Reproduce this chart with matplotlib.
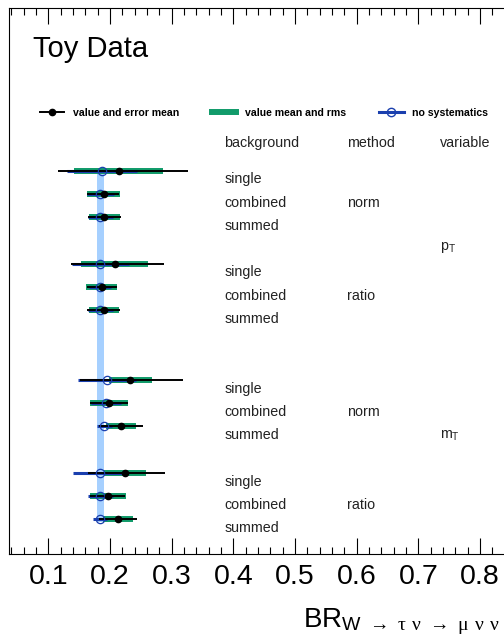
import numpy as np
import matplotlib
matplotlib.use('Agg')
import matplotlib.pyplot as plt
from matplotlib.lines import Line2D
from matplotlib.ticker import MultipleLocator

plt.rcParams['font.family'] = ['Liberation Sans', 'DejaVu Sans']
plt.rcParams['mathtext.fontset'] = 'custom'
plt.rcParams['mathtext.rm'] = 'Liberation Serif'
plt.rcParams['mathtext.sf'] = 'Liberation Sans'
plt.rcParams['mathtext.it'] = 'Liberation Serif:italic'

# row index of every measurement (top to bottom)
rows = [7, 8, 9, 11, 12, 13, 16, 17, 18, 20, 21, 22]
background = ['single', 'combined', 'summed'] * 4
methods = ['norm', 'ratio', 'norm', 'ratio']
variables = [r'p$_{\mathsf{T}}$', r'm$_{\mathsf{T}}$']

# value and error mean
val = [0.2138, 0.1894, 0.1908, 0.2073, 0.1865, 0.1897,
       0.2328, 0.1983, 0.2178, 0.2247, 0.1965, 0.2133]
err_lo = [0.0975, 0.0275, 0.0265, 0.0707, 0.0242, 0.0264,
          0.0813, 0.0305, 0.0352, 0.0597, 0.0284, 0.0320]
err_hi = [0.1124, 0.0250, 0.0265, 0.0807, 0.0242, 0.0264,
          0.0856, 0.0305, 0.0352, 0.0642, 0.0284, 0.0310]
# value mean and rms
rms = [0.0720, 0.0265, 0.0255, 0.0540, 0.0250, 0.0245,
       0.0350, 0.0307, 0.0236, 0.0340, 0.0295, 0.0241]
# no systematics
nosys = [0.1868, 0.1845, 0.1840, 0.1845, 0.1840, 0.1840,
         0.1949, 0.1930, 0.1910, 0.1845, 0.1845, 0.1840]
nosys_err = [0.0570, 0.0220, 0.0200, 0.0460, 0.0180, 0.0200,
             0.0470, 0.0240, 0.0124, 0.0449, 0.0200, 0.0109]

ref_value = 0.184
ref_err = 0.0054

green = '#119b6a'
blue = '#1a3fae'
band = '#a6d0ff'

val = np.array(val)
nosys = np.array(nosys)
nosys_err = np.array(nosys_err)

fig = plt.figure(figsize=(5.04, 6.38), dpi=100)
ax = fig.add_axes([9 / 504, 1 - 554 / 638, 502 / 504, 546 / 638])

ax.fill_betweenx([6.9, 22.1], ref_value - ref_err, ref_value + ref_err,
                 color=band, lw=0, zorder=1)
ax.hlines(rows, val - np.array(rms), val + np.array(rms), color=green, lw=4.3, zorder=2)
ax.hlines(rows, nosys - nosys_err, nosys + nosys_err, color=blue, lw=2.2, zorder=3)
ax.hlines(rows, val - np.array(err_lo), val + np.array(err_hi), color='black', lw=1.4, zorder=4)
ax.plot(nosys, rows, 'o', mfc='none', mec=blue, ms=6, mew=0.9, zorder=5)
ax.plot(val, rows, 'o', color='black', ms=4.5, zorder=6)

# table of labels on the right
col_bkg, col_meth, col_var = 0.385, 0.585, 0.735
txt = dict(fontsize=10.3, va='baseline', color='#222222')
ax.text(col_bkg, 6, 'background', **txt)
ax.text(col_meth, 6, 'method', **txt)
ax.text(col_var, 6, 'variable', **txt)
for r, b in zip(rows, background):
    ax.text(col_bkg, r + 0.55, b, **txt)
for r, m in zip(rows[1::3], methods):
    ax.text(col_meth, r + 0.55, m, **txt)
ax.text(col_var, 10.42, variables[0], **txt)
ax.text(col_var, 18.55, variables[1], **txt)

ax.set_xlim(0.0361, 0.8504)
ax.set_ylim(23.49, 0)
ax.set_yticks([])
ax.xaxis.set_major_locator(MultipleLocator(0.1))
ax.xaxis.set_minor_locator(MultipleLocator(0.02))
ax.tick_params(axis='x', which='both', direction='in', top=True, bottom=True,
               labelsize=20.5, pad=7.5, width=0.8)
ax.tick_params(axis='x', which='major', length=11.5)
ax.tick_params(axis='x', which='minor', length=5)
ax.set_xticks(np.arange(0.1, 0.85, 0.1))
ax.set_xticklabels(['%.1f' % t for t in np.arange(0.1, 0.85, 0.1)])
for s in ax.spines.values():
    s.set_linewidth(0.8)

handles = [
    Line2D([], [], color='black', lw=1.4, marker='o', ms=4.5),
    Line2D([], [], color=green, lw=4.3),
    Line2D([], [], color=blue, lw=2.2, marker='o', mfc='none', mec=blue, ms=6),
]
labels = ['value and error mean', 'value mean and rms', 'no systematics']
fig.legend(handles, labels, ncol=3, frameon=False, loc='center left',
           bbox_to_anchor=(40 / 504, 1 - 113 / 638), borderpad=0, borderaxespad=0,
           prop={'weight': 'bold', 'size': 7.6}, handlelength=2.3,
           handletextpad=0.8, columnspacing=3.15)

fig.text(33 / 504, 1 - 57.3 / 638, 'Toy Data', fontsize=21, va='baseline')
# W -> tau nu -> mu nu nu
parts = [r'\mathsf{W}', r'\mathrm{\rightarrow}', r'\mathrm{\tau}', r'\mathrm{\nu}',
         r'\mathrm{\rightarrow}', r'\mathrm{\mu}', r'\mathrm{\nu}', r'\mathrm{\nu}']
sub = r'\;\,'.join(parts)
fig.text(500 / 504, 1 - 627 / 638, 'BR$_{' + sub + '}$',
         fontsize=20, ha='right', va='baseline')

fig.savefig('out.png', dpi=100)
